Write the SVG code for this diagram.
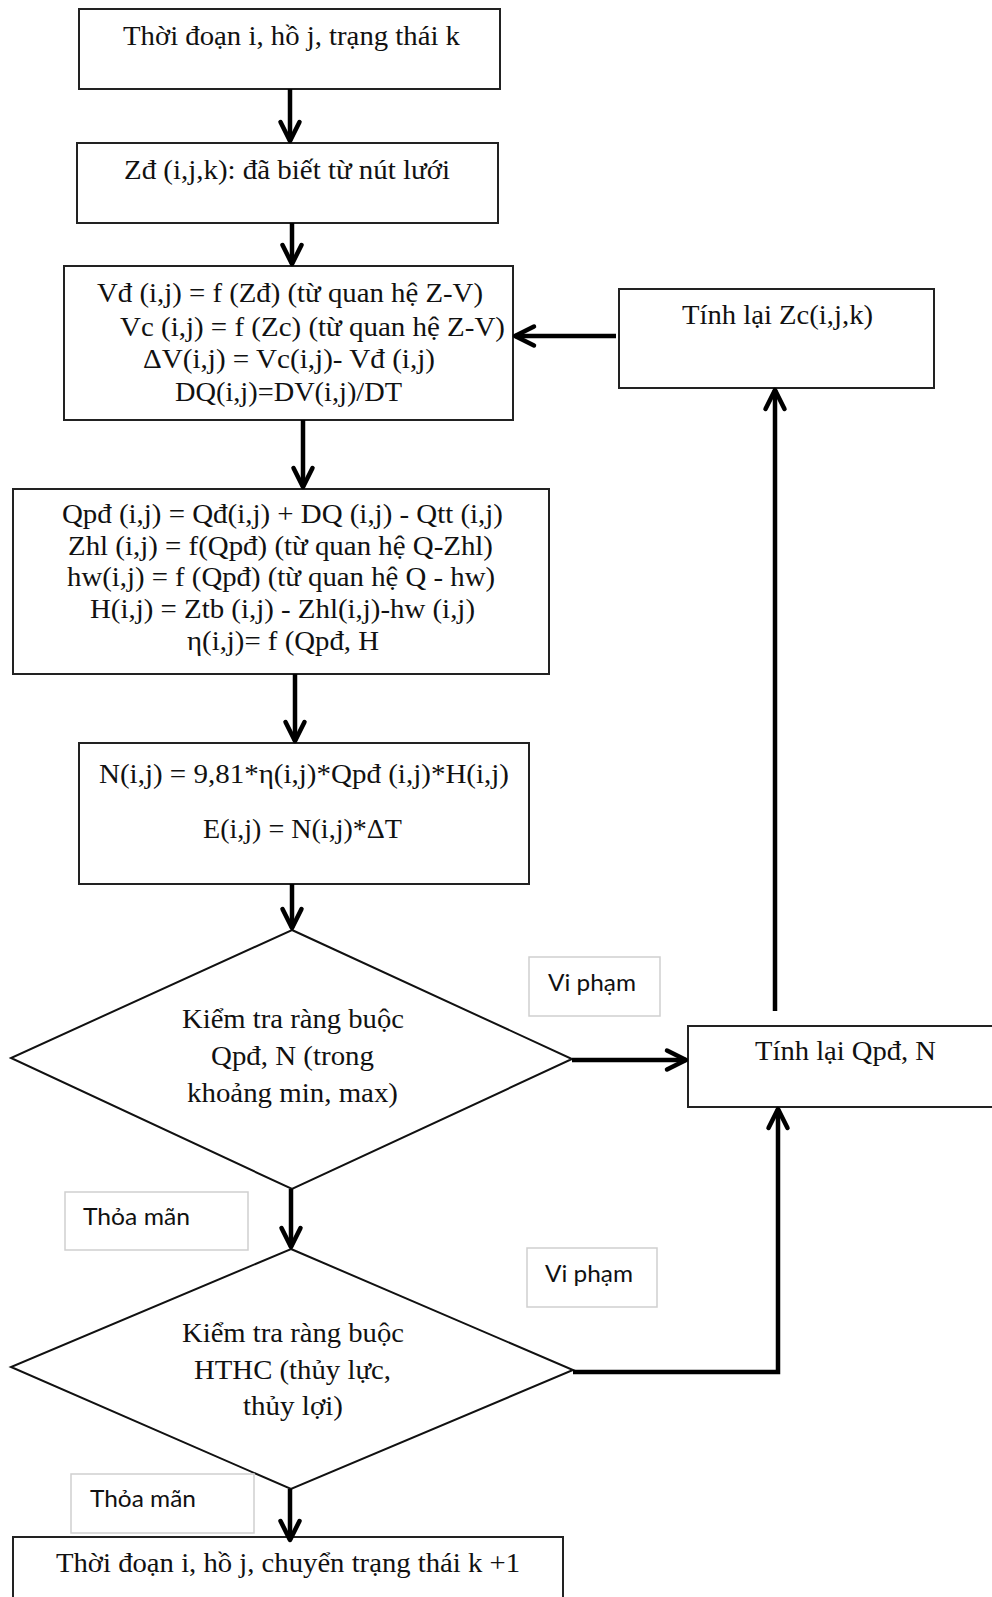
<svg xmlns="http://www.w3.org/2000/svg" width="992" height="1597" viewBox="0 0 992 1597">
<style>
.box{fill:#fff;stroke:#222;stroke-width:2}
.dia{fill:#fff;stroke:#111;stroke-width:2}
.lbl{fill:#fff;stroke:#cfcfcf;stroke-width:1.5}
.t{font-family:"Liberation Serif","Times New Roman",serif;font-size:28px;fill:#111}
.s{font-family:Lato,"Liberation Sans",sans-serif;font-size:23px;fill:#111}
.c{fill:none;stroke:#000;stroke-width:4.5}
</style>
<defs>
<marker id="arr" viewBox="-24 -14 30 28" refX="0" refY="0" markerWidth="30" markerHeight="28" markerUnits="userSpaceOnUse" orient="auto">
<path d="M-19,-9.5 L0,0 L-19,9.5" fill="none" stroke="#000" stroke-width="4.5" stroke-linecap="round" stroke-linejoin="round"/>
</marker>
</defs>
<rect width="992" height="1597" fill="#fff"/>

<g id="n1">
<rect class="box" x="79" y="9" width="421" height="80"/>
<text class="t" x="123" y="45" textLength="337" lengthAdjust="spacingAndGlyphs">Thời đoạn i, hồ j, trạng thái k</text>
</g>
<g id="n2">
<rect class="box" x="77" y="143" width="421" height="80"/>
<text class="t" x="124" y="179" textLength="326" lengthAdjust="spacingAndGlyphs">Zđ (i,j,k): đã biết từ nút lưới</text>
</g>
<g id="n3">
<rect class="box" x="64" y="266" width="449" height="154"/>
<text class="t" x="97" y="302" textLength="386" lengthAdjust="spacingAndGlyphs">Vđ (i,j) = f (Zđ) (từ quan hệ Z-V)</text>
<text class="t" x="120" y="336" textLength="385" lengthAdjust="spacingAndGlyphs">Vc (i,j) = f (Zc) (từ quan hệ Z-V)</text>
<text class="t" x="143" y="368" textLength="292" lengthAdjust="spacingAndGlyphs">ΔV(i,j) = Vc(i,j)- Vđ (i,j)</text>
<text class="t" x="175" y="401" textLength="227" lengthAdjust="spacingAndGlyphs">DQ(i,j)=DV(i,j)/DT</text>
</g>
<g id="nZc">
<rect class="box" x="619" y="289" width="315" height="99"/>
<text class="t" x="682" y="324" textLength="191" lengthAdjust="spacingAndGlyphs">Tính lại Zc(i,j,k)</text>
</g>
<g id="n4">
<rect class="box" x="13" y="489" width="536" height="185"/>
<text class="t" x="62" y="523" textLength="441" lengthAdjust="spacingAndGlyphs">Qpđ (i,j) = Qđ(i,j) + DQ (i,j) - Qtt (i,j)</text>
<text class="t" x="68" y="555" textLength="425" lengthAdjust="spacingAndGlyphs">Zhl (i,j) = f(Qpđ) (từ quan hệ Q-Zhl)</text>
<text class="t" x="67" y="586" textLength="428" lengthAdjust="spacingAndGlyphs">hw(i,j) = f (Qpđ) (từ quan hệ Q - hw)</text>
<text class="t" x="90" y="618" textLength="385" lengthAdjust="spacingAndGlyphs">H(i,j) = Ztb (i,j) - Zhl(i,j)-hw (i,j)</text>
<text class="t" x="187" y="650" textLength="192" lengthAdjust="spacingAndGlyphs">η(i,j)= f (Qpđ, H</text>
</g>
<g id="n5">
<rect class="box" x="79" y="743" width="450" height="141"/>
<text class="t" x="99" y="783" textLength="410" lengthAdjust="spacingAndGlyphs">N(i,j) = 9,81*η(i,j)*Qpđ (i,j)*H(i,j)</text>
<text class="t" x="203" y="838" textLength="199" lengthAdjust="spacingAndGlyphs">E(i,j) = N(i,j)*ΔT</text>
</g>
<g id="d1">
<polygon class="dia" points="292,930 572,1059 292,1189 11,1058"/>
<text class="t" x="182" y="1028" textLength="222" lengthAdjust="spacingAndGlyphs">Kiểm tra ràng buộc</text>
<text class="t" x="211" y="1065" textLength="163" lengthAdjust="spacingAndGlyphs">Qpđ, N (trong</text>
<text class="t" x="187" y="1102" textLength="211" lengthAdjust="spacingAndGlyphs">khoảng min, max)</text>
</g>
<g id="nQN">
<rect class="box" x="688" y="1026" width="320" height="81"/>
<text class="t" x="755" y="1060" textLength="181" lengthAdjust="spacingAndGlyphs">Tính lại Qpđ, N</text>
</g>
<g id="d2">
<polygon class="dia" points="291,1249 573,1370 291,1489 11,1367"/>
<text class="t" x="182" y="1342" textLength="222" lengthAdjust="spacingAndGlyphs">Kiểm tra ràng buộc</text>
<text class="t" x="194" y="1379" textLength="197" lengthAdjust="spacingAndGlyphs">HTHC (thủy lực,</text>
<text class="t" x="243" y="1415" textLength="100" lengthAdjust="spacingAndGlyphs">thủy lợi)</text>
</g>
<g id="n6">
<rect class="box" x="13" y="1537" width="550" height="80"/>
<text class="t" x="56" y="1572" textLength="464" lengthAdjust="spacingAndGlyphs">Thời đoạn i, hồ j, chuyển trạng thái k +1</text>
</g>

<g id="labels">
<g id="lv1">
<rect class="lbl" x="529" y="957" width="131" height="59"/>
<text class="s" x="548" y="991" textLength="88" lengthAdjust="spacingAndGlyphs">Vi phạm</text>
</g>
<g id="lt1">
<rect class="lbl" x="65" y="1192" width="183" height="58"/>
<text class="s" x="83" y="1225" textLength="107" lengthAdjust="spacingAndGlyphs">Thỏa mãn</text>
</g>
<g id="lv2">
<rect class="lbl" x="527" y="1248" width="130" height="59"/>
<text class="s" x="545" y="1282" textLength="88" lengthAdjust="spacingAndGlyphs">Vi phạm</text>
</g>
<g id="lt2">
<rect class="lbl" x="71" y="1474" width="183" height="59"/>
<text class="s" x="90" y="1507" textLength="106" lengthAdjust="spacingAndGlyphs">Thỏa mãn</text>
</g>
</g>

<g id="connectors">
<path class="c" d="M290,89 L290,141" marker-end="url(#arr)"/>
<path class="c" d="M292,223 L292,264" marker-end="url(#arr)"/>
<path class="c" d="M616,336 L515,336" marker-end="url(#arr)"/>
<path class="c" d="M303,420 L303,487" marker-end="url(#arr)"/>
<path class="c" d="M295,674 L295,741" marker-end="url(#arr)"/>
<path class="c" d="M292,884 L292,928" marker-end="url(#arr)"/>
<path class="c" d="M572,1060 L686,1060" marker-end="url(#arr)"/>
<path class="c" d="M775,1011 L775,390" marker-end="url(#arr)"/>
<path class="c" d="M291,1189 L291,1247" marker-end="url(#arr)"/>
<path class="c" d="M573,1372 L778,1372 L778,1109" marker-end="url(#arr)"/>
<path class="c" d="M290,1489 L290,1540" marker-end="url(#arr)"/>
</g>
</svg>
